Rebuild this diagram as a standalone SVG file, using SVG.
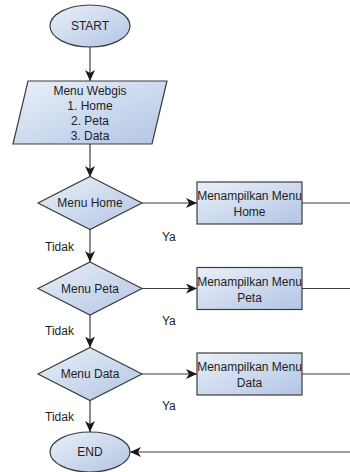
<svg xmlns="http://www.w3.org/2000/svg" width="350" height="472" viewBox="0 0 350 472">
<defs>
<linearGradient id="g" x1="0" y1="0" x2="1" y2="1">
<stop offset="0" stop-color="#eaf0f9"/>
<stop offset="1" stop-color="#b2c5e4"/>
</linearGradient>
<marker id="arr" markerUnits="userSpaceOnUse" markerWidth="12" markerHeight="10" refX="11" refY="5" orient="auto">
<path d="M0,0 L11,5 L0,10 L3,5 z" fill="#1a1a1a"/>
</marker>
<style>
.s{fill:url(#g);stroke:#3c3c3c;stroke-width:1.2}
.t{font-family:"Liberation Sans",Arial,sans-serif;font-size:12px;fill:#1e1e1e;text-anchor:middle}
.l{font-family:"Liberation Sans",Arial,sans-serif;font-size:12px;fill:#1e1e1e}
.c{stroke:#3c3c3c;stroke-width:1.2;fill:none}
.a{marker-end:url(#arr)}
</style>
</defs>
<g id="connectors">
<line class="c a" x1="90" y1="47" x2="90" y2="81"/>
<line class="c a" x1="90" y1="144" x2="90" y2="177"/>
<line class="c a" x1="142" y1="203" x2="197" y2="203"/>
<line class="c" x1="302" y1="203" x2="350" y2="203"/>
<line class="c a" x1="90" y1="229.5" x2="90" y2="262"/>
<line class="c a" x1="142" y1="288.5" x2="197" y2="288.5"/>
<line class="c" x1="302" y1="288.5" x2="350" y2="288.5"/>
<line class="c a" x1="90" y1="315" x2="90" y2="347.5"/>
<line class="c a" x1="142" y1="374" x2="197" y2="374"/>
<line class="c" x1="302" y1="374" x2="350" y2="374"/>
<line class="c a" x1="90" y1="400.5" x2="90" y2="432"/>
<line class="c a" x1="350" y1="452" x2="130" y2="452"/>
<text class="l" x="162" y="241">Ya</text>
<text class="l" x="45" y="251">Tidak</text>
<text class="l" x="162" y="325">Ya</text>
<text class="l" x="45" y="335">Tidak</text>
<text class="l" x="162" y="410">Ya</text>
<text class="l" x="45" y="421">Tidak</text>
</g>
<g id="start">
<ellipse class="s" cx="90" cy="26" rx="40" ry="21"/>
<text class="t" x="90" y="30">START</text>
</g>
<g id="menu-webgis">
<polygon class="s" points="28,81 167,81 152,144 13,144"/>
<text class="t" x="90" y="95">Menu Webgis</text>
<text class="t" x="90" y="110">1. Home</text>
<text class="t" x="90" y="125">2. Peta</text>
<text class="t" x="90" y="140">3. Data</text>
</g>
<g id="menu-home">
<polygon class="s" points="90,176.5 142,203 90,229.5 38,203"/>
<text class="t" x="90" y="207">Menu Home</text>
</g>
<g id="tampil-home">
<rect class="s" x="197" y="182" width="105" height="42"/>
<text class="t" x="249.5" y="200">Menampilkan Menu</text>
<text class="t" x="249.5" y="216">Home</text>
</g>
<g id="menu-peta">
<polygon class="s" points="90,262 142,288.5 90,315 38,288.5"/>
<text class="t" x="90" y="292.5">Menu Peta</text>
</g>
<g id="tampil-peta">
<rect class="s" x="197" y="267.5" width="105" height="42"/>
<text class="t" x="249.5" y="285.5">Menampilkan Menu</text>
<text class="t" x="249.5" y="301.5">Peta</text>
</g>
<g id="menu-data">
<polygon class="s" points="90,347.5 142,374 90,400.5 38,374"/>
<text class="t" x="90" y="378">Menu Data</text>
</g>
<g id="tampil-data">
<rect class="s" x="197" y="353" width="105" height="42"/>
<text class="t" x="249.5" y="371">Menampilkan Menu</text>
<text class="t" x="249.5" y="387">Data</text>
</g>
<g id="end">
<ellipse class="s" cx="90" cy="452" rx="40" ry="20"/>
<text class="t" x="90" y="456">END</text>
</g>
</svg>
